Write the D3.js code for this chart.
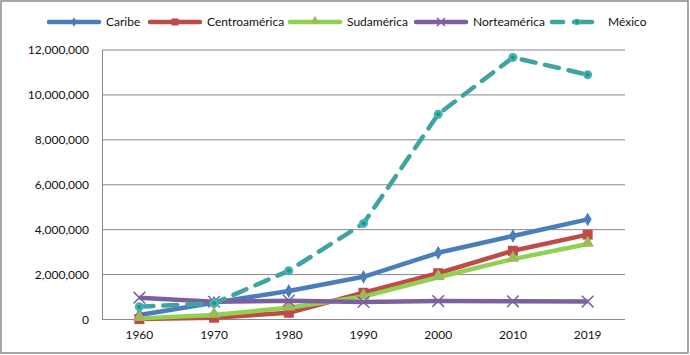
<!DOCTYPE html>
<html>
<head>
<meta charset="utf-8">
<script src="https://cdn.jsdelivr.net/npm/d3@7"></script>
<style>
  body { margin: 0; background: #fff; }
  text { font-family: Lato, "Open Sans", sans-serif; fill: #111; }
</style>
</head>
<body>
<svg id="vis"></svg>
<script>
// chart size
const width = 690;
const height = 355;

const margin = {top: 50, bottom: 35.5, left: 102, right: 65};

// categories and values (estimates)
const years = ["1960", "1970", "1980", "1990", "2000", "2010", "2019"];
const yTicks = [0, 2000000, 4000000, 6000000, 8000000, 10000000, 12000000];

const caribe        = [200000, 750000, 1270000, 1900000, 2970000, 3720000, 4460000];
const centroamerica = [20000, 80000, 300000, 1190000, 2060000, 3060000, 3780000];
const sudamerica    = [50000, 200000, 525000, 1020000, 1880000, 2690000, 3360000];
const norteamerica  = [970000, 790000, 840000, 780000, 820000, 810000, 800000];
const mexico        = [570000, 720000, 2170000, 4280000, 9140000, 11670000, 10900000];

const series = [
    {name: "Caribe", values: caribe, color: "#4a7ebb", marker: "diamond"},
    {name: "Centroamérica", values: centroamerica, color: "#be4b48", marker: "square"},
    {name: "Sudamérica", values: sudamerica, color: "#92d050", marker: "triangle"},
    {name: "Norteamérica", values: norteamerica, color: "#7d5fa0", marker: "cross"},
    {name: "México", values: mexico, color: "#3fa39f", marker: "circle", dash: "14,10"}
];

const xScale = d3.scaleBand()
    .domain(years)
    .range([margin.left, width - margin.right]);

const yScale = d3.scaleLinear()
    .domain([0, 12000000])
    .range([height - margin.bottom, margin.top]);

const svg = d3.select("#vis")
    .attr("width", width)
    .attr("height", height);

// outer frame
svg.append("rect")
    .attr("x", 1).attr("y", 1)
    .attr("width", width - 3).attr("height", height - 3)
    .attr("fill", "none").attr("stroke", "#8a8a8a").attr("stroke-width", 1.5);

// horizontal gridlines
svg.append("g")
    .selectAll("line")
    .data(yTicks)
    .join("line")
    .attr("x1", margin.left).attr("x2", width - margin.right)
    .attr("y1", d => yScale(d)).attr("y2", d => yScale(d))
    .attr("stroke", "#888").attr("stroke-width", 1);

// y axis
const yAxis = d3.axisLeft(yScale)
    .tickValues(yTicks)
    .tickFormat(d3.format(","))
    .tickSize(0)
    .tickPadding(13);
const gy = svg.append("g")
    .attr("transform", `translate(${margin.left},0)`)
    .call(yAxis);
gy.select(".domain").attr("stroke", "#888");
gy.selectAll("text").style("font-size", "12px");

// x axis
const xAxis = d3.axisBottom(xScale).tickSize(0).tickPadding(11);
const gx = svg.append("g")
    .attr("transform", `translate(0,${height - margin.bottom})`)
    .call(xAxis);
gx.select(".domain").remove();
gx.selectAll("text").style("font-size", "12px");

const cx = d => xScale(d) + xScale.bandwidth() / 2;

const line = d3.line()
    .x((d, i) => cx(years[i]))
    .y(d => yScale(d));

// k scales the marker (legend markers are smaller)
function drawMarker(g, type, color, x, y, k) {
    if (type === "diamond") {
        g.append("path").attr("d", d3.symbol(d3.symbolDiamond, 55 * k * k)())
            .attr("transform", `translate(${x},${y})`).attr("fill", color);
    } else if (type === "square") {
        g.append("rect").attr("x", x - 5 * k).attr("y", y - 5 * k)
            .attr("width", 10 * k).attr("height", 10 * k).attr("fill", color);
    } else if (type === "triangle") {
        g.append("path").attr("d", d3.symbol(d3.symbolTriangle, 70 * k * k)())
            .attr("transform", `translate(${x},${y - 1})`).attr("fill", "#9bbb59");
    } else if (type === "cross") {
        g.append("path").attr("d", d3.symbol(d3.symbolX, 90 * k * k)())
            .attr("transform", `translate(${x},${y})`)
            .attr("fill", "none").attr("stroke", color).attr("stroke-width", 1.5);
    } else if (type === "circle") {
        g.append("circle").attr("cx", x).attr("cy", y).attr("r", 4.5 * k)
            .attr("fill", "#4bacc6");
        g.append("circle").attr("cx", x).attr("cy", y).attr("r", 2)
            .attr("fill", "#00b050");
    }
}

// the series lines with their markers
series.forEach(s => {
    const g = svg.append("g");
    g.append("path")
        .datum(s.values)
        .attr("d", line)
        .attr("fill", "none")
        .attr("stroke", s.color)
        .attr("stroke-width", 4.5)
        .attr("stroke-linecap", s.dash ? "round" : "butt")
        .attr("stroke-linejoin", "round")
        .attr("stroke-dasharray", s.dash || null);
    s.values.forEach((v, i) => drawMarker(g, s.marker, s.color, cx(years[i]), yScale(v), 1));
});

// legend
const legendX = [47, 148, 288, 414, 550];
const legend = svg.append("g");
series.forEach((s, i) => {
    const x0 = legendX[i];
    const len = s.dash ? 44 : 54;
    const g = legend.append("g");
    g.append("line")
        .attr("x1", x0 + 2).attr("x2", x0 + len - 2)
        .attr("y1", 22).attr("y2", 22)
        .attr("stroke", s.color).attr("stroke-width", 4.5)
        .attr("stroke-linecap", "round")
        .attr("stroke-dasharray", s.dash ? "11,11,30" : null);
    drawMarker(g, s.marker, s.color, x0 + len / 2 + (s.dash ? 5 : 0), 22, 0.7);
    g.append("text")
        .attr("x", x0 + len + (s.dash ? 14 : 5))
        .attr("y", 22)
        .attr("dy", "0.35em")
        .style("font-size", "12px")
        .text(s.name);
});
</script>
</body>
</html>
